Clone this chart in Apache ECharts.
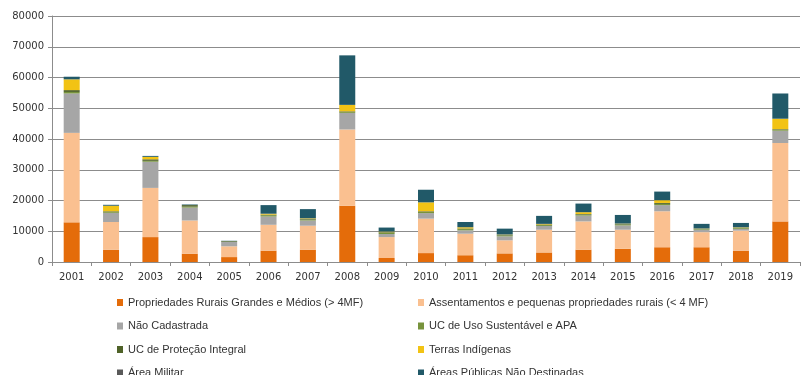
<!DOCTYPE html>
<html>
<head>
<meta charset="utf-8">
<script src="https://cdn.jsdelivr.net/npm/echarts@6/dist/echarts.min.js"></script>
<style>
  html, body { margin: 0; padding: 0; background: #fff; }
  #chart { width: 805px; height: 375px; }
</style>
</head>
<body>
<div id="chart"></div>
<script>
const years = ["2001","2002","2003","2004","2005","2006","2007","2008","2009","2010","2011","2012","2013","2014","2015","2016","2017","2018","2019"];

const propriedades = [12900, 4000, 8100, 2700, 1600, 3700, 4000, 18300, 1300, 2900, 2200, 2800, 3100, 4000, 4300, 4800, 4800, 3700, 13200];
const assentamentos = [29100, 9000, 16000, 10800, 3500, 8400, 7800, 24800, 6800, 11200, 7000, 4250, 7400, 9200, 6200, 11700, 4900, 6500, 25500];
const naoCadastrada = [12800, 3000, 8500, 4200, 1400, 2700, 1700, 5400, 1000, 1800, 1100, 1300, 1200, 1900, 1400, 2000, 800, 600, 4000];
const ucUso = [500, 300, 300, 300, 100, 400, 300, 300, 400, 400, 400, 300, 300, 300, 300, 400, 200, 300, 300];
const ucProtecao = [600, 200, 500, 500, 200, 200, 200, 200, 200, 200, 200, 200, 200, 200, 200, 300, 100, 100, 200];
const terrasIndigenas = [3500, 1800, 800, 0, 0, 300, 200, 2100, 200, 2900, 400, 100, 200, 600, 100, 900, 100, 100, 3400];
const areaMilitar = [0, 0, 0, 0, 0, 0, 0, 0, 0, 0, 0, 0, 0, 0, 0, 0, 0, 0, 0];
const areasPublicas = [850, 300, 300, 200, 100, 2800, 3000, 16100, 1300, 4100, 1700, 1900, 2600, 2800, 2800, 2800, 1500, 1400, 8200];

const yTicks = [0, 10000, 20000, 30000, 40000, 50000, 60000, 70000, 80000];

const seriesDefs = [
  { name: "Propriedades Rurais Grandes e Médios (> 4MF)", data: propriedades, color: "#E46C0A" },
  { name: "Assentamentos e pequenas propriedades rurais (< 4 MF)", data: assentamentos, color: "#FAC090" },
  { name: "Não Cadastrada", data: naoCadastrada, color: "#A6A6A6" },
  { name: "UC de Uso Sustentável e APA", data: ucUso, color: "#77933C" },
  { name: "UC de Proteção Integral", data: ucProtecao, color: "#4F6228" },
  { name: "Terras Indígenas", data: terrasIndigenas, color: "#F2C314" },
  { name: "Área Militar", data: areaMilitar, color: "#595959" },
  { name: "Áreas Públicas Não Destinadas", data: areasPublicas, color: "#215968" }
];

const myChart = echarts.init(document.getElementById("chart"));

// one legend per item, two columns x four rows
const legends = seriesDefs.map((s, i) => ({
  left: i % 2 === 0 ? 117 : 418,
  top: 297 + Math.floor(i / 2) * 23.5,
  itemWidth: 6,
  itemHeight: 7,
  icon: "rect",
  padding: 0,
  textStyle: {
    fontFamily: "Liberation Sans Narrow, Liberation Sans, sans-serif",
    fontSize: 11,
    color: "#333"
  },
  data: [s.name]
}));

myChart.setOption({
  animation: false,
  grid: { left: 52, right: 5, top: 16, bottom: 113 },
  legend: legends,
  xAxis: {
    type: "category",
    data: years,
    axisLine: { lineStyle: { color: "#8c8c8c" } },
    axisTick: { show: true, length: 4, lineStyle: { color: "#8c8c8c" } },
    axisLabel: { color: "#333", fontSize: 10, fontFamily: "DejaVu Sans", margin: 10 }
  },
  yAxis: {
    type: "value",
    min: yTicks[0],
    max: yTicks[yTicks.length - 1],
    interval: 10000,
    axisLine: { show: true, lineStyle: { color: "#8c8c8c" } },
    axisTick: { show: true, length: 4, lineStyle: { color: "#8c8c8c" } },
    axisLabel: {
      color: "#333",
      fontSize: 10,
      fontFamily: "DejaVu Sans",
      margin: 8,
      formatter: v => String(v)
    },
    splitLine: { lineStyle: { color: "#8c8c8c", width: 1 } }
  },
  series: seriesDefs.map(s => ({
    name: s.name,
    type: "bar",
    stack: "total",
    barWidth: 16,
    data: s.data,
    itemStyle: { color: s.color }
  }))
});
</script>
</body>
</html>
